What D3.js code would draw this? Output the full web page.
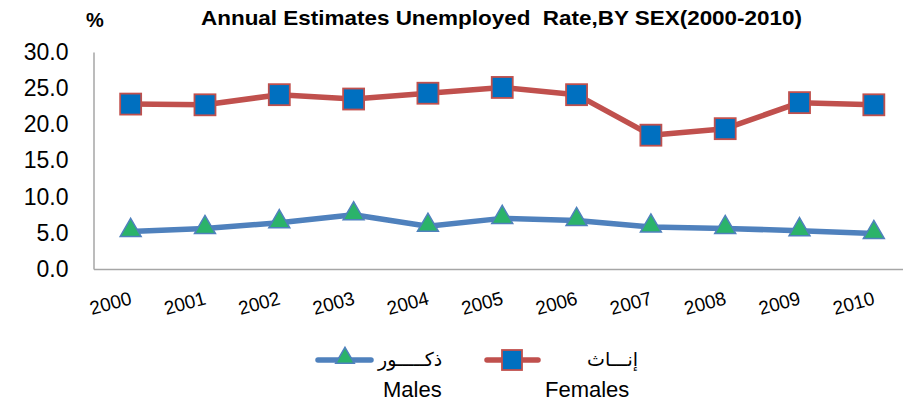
<!DOCTYPE html>
<html><head><meta charset="utf-8">
<script src="https://cdn.jsdelivr.net/npm/d3@7"></script>
<style>body{margin:0;background:#fff}svg{display:block}</style>
</head><body>
<svg id="c" width="903" height="404"></svg>
<script>
const years = ["2000","2001","2002","2003","2004","2005","2006","2007","2008","2009","2010"];
const females = [22.8, 22.7, 24.1, 23.5, 24.3, 25.1, 24.1, 18.5, 19.4, 23.0, 22.7];
const males = [5.2, 5.6, 6.4, 7.5, 5.9, 7.0, 6.7, 5.8, 5.6, 5.3, 4.9];
const yTicks = [0, 5, 10, 15, 20, 25, 30];
const titleText = "Annual Estimates Unemployed\u00a0 Rate,BY SEX(2000-2010)";

const svg = d3.select("#c");
const x = d3.scaleBand().domain(years).range([93.5, 911]);
const y = d3.scaleLinear().domain([0, 30]).range([269, 52]);
const cx = d => x(d) + x.bandwidth() / 2;
const sans = "'Liberation Sans', Arial, sans-serif";

// title
svg.append("text").attr("x", 201).attr("y", 25)
  .attr("font-family", sans).attr("font-weight", "bold").attr("font-size", 21)
  .attr("textLength", 601).attr("lengthAdjust", "spacingAndGlyphs")
  .text(titleText);
svg.append("text").attr("x", 86).attr("y", 27)
  .attr("font-family", sans).attr("font-weight", "bold").attr("font-size", 20).text("%");

// y axis
const yAxis = d3.axisLeft(y).tickValues(yTicks).tickFormat(d3.format(".1f")).tickSize(0).tickPadding(25);
const gy = svg.append("g").attr("transform", "translate(93.5,0)").call(yAxis);
gy.select(".domain").attr("stroke", "#A6A6A6").attr("stroke-width", 1.5);
gy.selectAll("text").attr("font-family", sans).attr("font-size", 23).attr("fill", "#000");

// x axis
const xAxis = d3.axisBottom(x).tickSize(0).tickFormat(d => d);
const gx = svg.append("g").attr("transform", "translate(0,269)").call(xAxis);
gx.select(".domain").attr("stroke", "#A6A6A6").attr("stroke-width", 1.5);
gx.selectAll("text")
  .attr("font-family", sans).attr("font-size", 19).attr("fill", "#000")
  .attr("text-anchor", "end")
  .attr("transform", "translate(2,35) rotate(-15)")
  .attr("dy", 0).attr("y", 0).attr("x", 0);

// lines
const lineF = d3.line().x((d, i) => cx(years[i])).y(d => y(d));
svg.append("path").datum(females).attr("d", lineF).attr("fill", "none")
  .attr("stroke", "#C0504D").attr("stroke-width", 5.5).attr("stroke-linejoin", "round");
svg.append("path").datum(males).attr("d", lineF).attr("fill", "none")
  .attr("stroke", "#4F81BD").attr("stroke-width", 5.5).attr("stroke-linejoin", "round");

// markers
const sq = 21;
svg.selectAll(".sq").data(females).enter().append("rect")
  .attr("x", (d, i) => cx(years[i]) - sq / 2).attr("y", d => y(d) - sq / 2)
  .attr("width", sq).attr("height", sq)
  .attr("fill", "#0070C0").attr("stroke", "#C0504D").attr("stroke-width", 1.8);
const tri = d3.symbol().type(d3.symbolTriangle).size(190);
svg.selectAll(".tri").data(males).enter().append("path")
  .attr("d", tri).attr("transform", (d, i) => `translate(${cx(years[i])},${y(d) - 1})`)
  .attr("fill", "#2BB36A").attr("stroke", "#4F81BD").attr("stroke-width", 1.5);

// legend
const lg = svg.append("g");
lg.append("line").attr("x1", 318).attr("x2", 371).attr("y1", 360).attr("y2", 360)
  .attr("stroke", "#4F81BD").attr("stroke-width", 5.5).attr("stroke-linecap", "round");
lg.append("path").attr("d", d3.symbol().type(d3.symbolTriangle).size(150))
  .attr("transform", "translate(345,358)").attr("fill", "#2BB36A").attr("stroke", "#4F81BD").attr("stroke-width", 1.5);
lg.append("text").attr("x", 378).attr("y", 366).attr("font-family", "'Noto Sans', 'DejaVu Sans', sans-serif")
  .attr("font-size", 19).attr("direction", "rtl").attr("text-anchor", "end").text("ذكـــــور");
lg.append("line").attr("x1", 487).attr("x2", 538).attr("y1", 360).attr("y2", 360)
  .attr("stroke", "#C0504D").attr("stroke-width", 5.5).attr("stroke-linecap", "round");
lg.append("rect").attr("x", 502).attr("y", 350).attr("width", 20).attr("height", 20)
  .attr("fill", "#0070C0").attr("stroke", "#C0504D").attr("stroke-width", 1.8);
lg.append("text").attr("x", 587).attr("y", 366).attr("font-family", "'Noto Sans', 'DejaVu Sans', sans-serif")
  .attr("font-size", 19).attr("direction", "rtl").attr("text-anchor", "end").text("إنـــاث");
lg.append("text").attr("x", 383).attr("y", 397).attr("font-family", sans).attr("font-size", 22).text("Males");
lg.append("text").attr("x", 545).attr("y", 397).attr("font-family", sans).attr("font-size", 22).text("Females");
</script>
</body></html>
